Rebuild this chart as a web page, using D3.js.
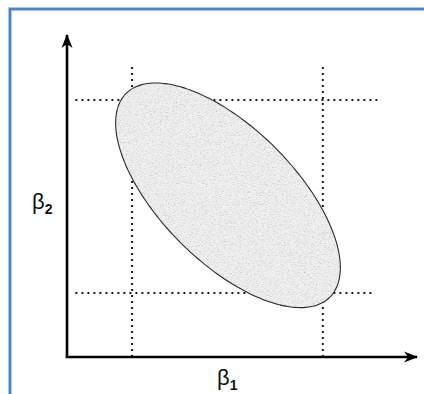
<!DOCTYPE html>
<html>
<head>
<meta charset="utf-8">
<script src="https://cdn.jsdelivr.net/npm/d3@7"></script>
<style>
  html, body { margin: 0; padding: 0; background: #fff; }
  svg { display: block; }
  text { font-family: "Liberation Sans", Arial, sans-serif; fill: #111; }
</style>
</head>
<body>
<script>
// Joint confidence region for (β1, β2) and the two separate intervals
const axisLabels = ["β", "β"];
const axisSubscripts = ["1", "2"];
const regionCenter = [4.6, 4.62];      // [β1, β2]
const regionHalfExtent = [3.21, 3.21]; // half-width of the region along each axis
const regionCorrelation = [-0.644];    // correlation between the two estimates
const intervalB1 = [1.86, 7.31];       // separate interval for β1
const intervalB2 = [1.83, 7.34];       // separate interval for β2

const W = 424, H = 394;
const svg = d3.select("body").append("svg").attr("width", W).attr("height", H);
const defs = svg.append("defs");

const x = d3.scaleLinear().domain([0, 10]).range([67, 417]);
const y = d3.scaleLinear().domain([0, 9.2]).range([357, 35]);

// frame around the figure
svg.append("path")
  .attr("d", `M10,${H}V9H${W}`)
  .attr("fill", "none").attr("stroke", "#a9c4ea").attr("stroke-width", 4);
svg.append("path")
  .attr("d", `M10,${H}V9H${W}`)
  .attr("fill", "none").attr("stroke", "#4f80c6").attr("stroke-width", 2);

// arrowhead
defs.append("marker")
  .attr("id", "arrow").attr("viewBox", "0 -6 14 12")
  .attr("refX", 13).attr("refY", 0)
  .attr("markerWidth", 14).attr("markerHeight", 12)
  .attr("markerUnits", "userSpaceOnUse").attr("orient", "auto")
  .append("path").attr("d", "M0,-5.5L14,0L0,5.5L4,0Z").attr("fill", "#000");

// speckled fill of the region
const grain = defs.append("filter").attr("id", "grain")
  .attr("x", 0).attr("y", 0).attr("width", "100%").attr("height", "100%");
grain.append("feTurbulence").attr("type", "fractalNoise")
  .attr("baseFrequency", "0.5 1.1").attr("numOctaves", 2).attr("seed", 7);
grain.append("feColorMatrix").attr("type", "matrix")
  .attr("values", "0 0 0 0 0.42  0 0 0 0 0.42  0 0 0 0 0.42  1 0 0 0 0");
grain.append("feComponentTransfer").append("feFuncA")
  .attr("type", "discrete").attr("tableValues", "0 0 0 0 0.12 0.3 0.5 0.7");

// region outline from center, half-extents and correlation
const rho = regionCorrelation[0];
const angles = d3.range(0, 360, 2).map(d => d * Math.PI / 180);
const outline = angles.map(t => [
  regionCenter[0] + regionHalfExtent[0] * Math.cos(t),
  regionCenter[1] + regionHalfExtent[1] * (rho * Math.cos(t) + Math.sqrt(1 - rho * rho) * Math.sin(t))
]);
const line = d3.line().x(d => x(d[0])).y(d => y(d[1])).curve(d3.curveCardinalClosed);

// dotted interval lines (drawn first; the region covers them)
const dotted = svg.append("g")
  .attr("stroke", "#1a1a1a").attr("stroke-width", 2).attr("stroke-dasharray", "2,4");
intervalB1.forEach(v => {
  dotted.append("line")
    .attr("x1", x(v)).attr("x2", x(v))
    .attr("y1", y(0)).attr("y2", y(8.3));
});
const hEnds = [8.75, 8.88];
intervalB2.forEach((v, i) => {
  dotted.append("line")
    .attr("x1", x(0.24)).attr("x2", x(hEnds[i]))
    .attr("y1", y(v)).attr("y2", y(v));
});

defs.append("clipPath").attr("id", "regionClip")
  .append("path").attr("d", line(outline));

svg.append("path").attr("d", line(outline)).attr("fill", "#f0f0f0");
svg.append("g").attr("clip-path", "url(#regionClip)")
  .append("rect")
  .attr("x", x(regionCenter[0] - regionHalfExtent[0]) - 2)
  .attr("y", y(regionCenter[1] + regionHalfExtent[1]) - 2)
  .attr("width", x(regionCenter[0] + regionHalfExtent[0]) - x(regionCenter[0] - regionHalfExtent[0]) + 4)
  .attr("height", y(regionCenter[1] - regionHalfExtent[1]) - y(regionCenter[1] + regionHalfExtent[1]) + 4)
  .attr("filter", "url(#grain)");

svg.append("path").attr("d", line(outline))
  .attr("fill", "none").attr("stroke", "#2a2a2a").attr("stroke-width", 1.1);

// axes
svg.append("line")
  .attr("x1", x(0)).attr("y1", y(0)).attr("x2", x(0)).attr("y2", y(9.2))
  .attr("stroke", "#000").attr("stroke-width", 2.6).attr("marker-end", "url(#arrow)");
svg.append("line")
  .attr("x1", x(0) - 1.3).attr("y1", y(0)).attr("x2", x(10)).attr("y2", y(0))
  .attr("stroke", "#000").attr("stroke-width", 2.6).attr("marker-end", "url(#arrow)");

// axis labels
function label(px, py, i) {
  const t = svg.append("text").attr("x", px).attr("y", py).attr("font-size", 22);
  t.append("tspan").text(axisLabels[i]);
  t.append("tspan").attr("dy", 5).attr("font-size", 14).attr("font-weight", "bold")
    .text(axisSubscripts[i]);
}
label(217, 385, 0);
label(32, 209, 1);
</script>
</body>
</html>
